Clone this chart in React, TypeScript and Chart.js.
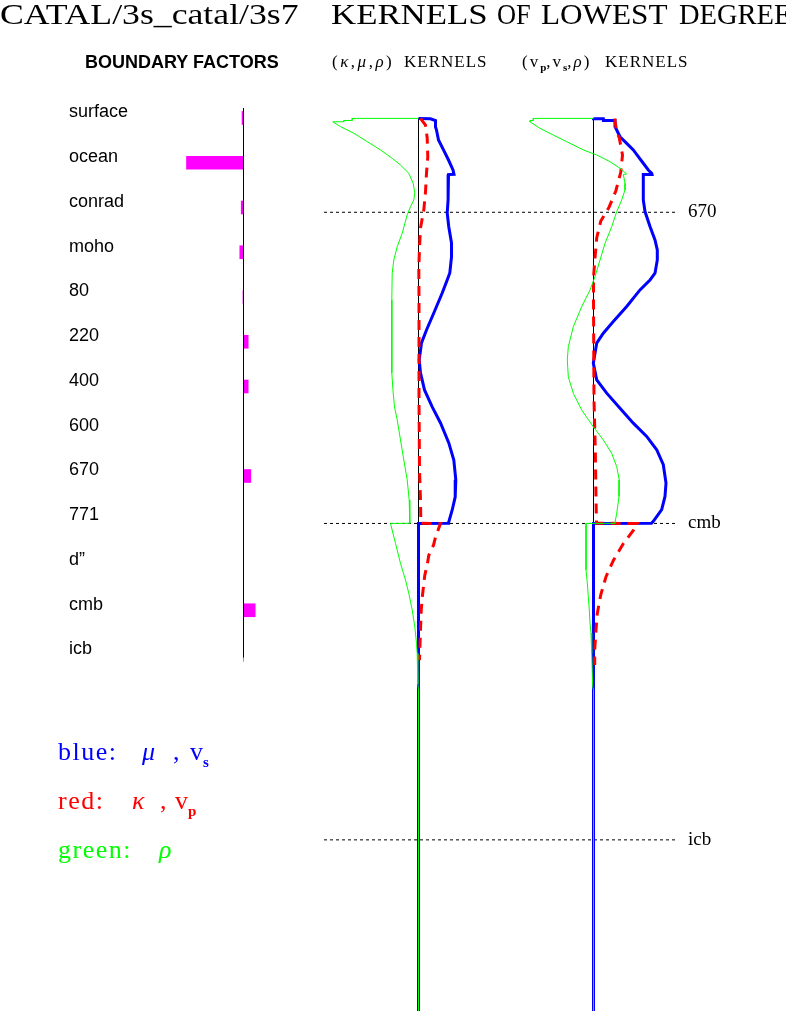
import React, { useEffect, useRef } from 'react';
import { Chart, registerables } from 'chart.js';

Chart.register(...registerables);

// ---------------- DATA ----------------
const EARTH_RADIUS = 6371;

// boundary factors (normalised, ocean = -1)
const boundaryLabels = ['surface', 'ocean', 'conrad', 'moho', '80', '220', '400', '600', '670', '771', 'd\u201D', 'cmb', 'icb'];
const boundaryFactors = [-0.026, -1.0, -0.04, -0.065, -0.009, 0.082, 0.082, 0, 0.128, 0, 0, 0.205, 0];

// discontinuities marked on the right (radius, km)
const discontinuityRadius = [5701, 3480, 1221.5];
const discontinuityLabels = ['670', 'cmb', 'icb'];

// (kappa, mu, rho) kernels -- radius in km, kernel value (normalised)
const muRadius = [6371, 6368, 6356, 6310, 6288, 6217, 6146, 6074, 6003, 5972, 5970, 5896, 5789, 5696, 5596, 5482, 5382, 5268, 5218, 5125, 4982, 4861, 4768, 4647, 4554, 4433, 4312, 4197, 4055, 3933, 3791, 3669, 3576, 3492, 3481, 3480, 0];
const muKernel = [0, 0.12, 0.17, 0.17, 0.18, 0.2, 0.25, 0.3, 0.345, 0.355, 0.3, 0.295, 0.297, 0.287, 0.303, 0.33, 0.33, 0.313, 0.287, 0.237, 0.153, 0.08, 0.03, 0.007, 0.02, 0.06, 0.137, 0.22, 0.303, 0.353, 0.373, 0.367, 0.337, 0.303, 0.3, 0, 0];

const kappaRadius = [6371, 6352, 6324, 6231, 6096, 5981, 5846, 5717, 5589, 5446, 5303, 5075, 4361, 3861, 3647, 3504, 3481, 3480, 3382, 3325, 3253, 3196, 3111, 3061, 2968, 2861, 2718, 2575, 2504];
const kappaKernel = [0.02, 0.04, 0.07, 0.087, 0.093, 0.08, 0.07, 0.053, 0.02, 0.01, 0.003, 0.005, 0.005, 0.01, 0.02, 0.023, 0.023, 0.22, 0.17, 0.15, 0.103, 0.09, 0.063, 0.055, 0.04, 0.027, 0.02, 0.013, 0.01];

const rhoKRadius = [6371, 6371, 6356, 6356, 6347, 6347, 6312, 6265, 6205, 6146, 6086, 6038, 5979, 5908, 5836, 5789, 5741, 5682, 5551, 5455, 5360, 5265, 5075, 4554, 4411, 4312, 4219, 4076, 3933, 3791, 3647, 3481, 3480, 3338, 3195, 3076, 2981, 2862, 2743, 2624, 2553, 2334, 2291, 0];
const rhoKKernel = [0, -0.663, -0.663, -0.747, -0.747, -0.857, -0.78, -0.647, -0.513, -0.38, -0.263, -0.18, -0.097, -0.053, -0.037, -0.047, -0.08, -0.113, -0.163, -0.213, -0.247, -0.263, -0.267, -0.267, -0.253, -0.24, -0.213, -0.18, -0.147, -0.113, -0.093, -0.087, -0.28, -0.23, -0.18, -0.13, -0.097, -0.063, -0.037, -0.02, -0.013, -0.007, 0, 0];

// (vp, vs, rho) kernels
const vsRadius = [6371, 6368, 6368, 6356, 6356, 6312, 6288, 6240, 6193, 6146, 6098, 6051, 6003, 5979, 5971, 5971, 5789, 5706, 5599, 5504, 5432, 5361, 5266, 5218, 5147, 5028, 4921, 4838, 4767, 4624, 4505, 4410, 4303, 4196, 4101, 4006, 3899, 3768, 3673, 3578, 3495, 3481, 3480, 0];
const vsKernel = [0, 0, 0.098, 0.1, 0.215, 0.215, 0.232, 0.265, 0.332, 0.398, 0.448, 0.498, 0.548, 0.582, 0.585, 0.498, 0.498, 0.515, 0.565, 0.615, 0.638, 0.638, 0.615, 0.565, 0.465, 0.332, 0.198, 0.098, 0.032, -0.002, 0.032, 0.132, 0.265, 0.398, 0.532, 0.632, 0.698, 0.725, 0.715, 0.682, 0.598, 0.58, 0, 0];

const vpRadius = [6371, 6352, 6274, 6231, 6110, 5988, 5853, 5739, 5639, 5518, 5375, 5232, 5075, 4361, 4004, 3647, 3490, 3481, 3480, 3432, 3338, 3218, 3100, 2969, 2838, 2719, 2576, 2469];
const vpKernel = [0.215, 0.215, 0.232, 0.258, 0.29, 0.273, 0.223, 0.157, 0.073, 0.032, 0.015, 0, 0, 0.005, 0.018, 0.025, 0.03, 0.03, 0.44, 0.4, 0.3, 0.2, 0.125, 0.072, 0.038, 0.025, 0.012, 0.012];

const rhoVRadius = [6371, 6371, 6356, 6356, 6347, 6300, 6252, 6205, 6146, 6110, 6062, 6015, 5974, 5971, 5908, 5860, 5789, 5705, 5598, 5479, 5360, 5241, 5146, 5027, 4884, 4741, 4647, 4527, 4409, 4290, 4170, 4076, 3981, 3885, 3791, 3672, 3552, 3486, 3481, 3480, 3148, 3055, 2957, 2862, 2769, 2698, 2553, 2315, 2291, 0];
const rhoVKernel = [0, -0.602, -0.602, -0.635, -0.635, -0.535, -0.402, -0.268, -0.102, 0.032, 0.165, 0.265, 0.332, 0.298, 0.315, 0.315, 0.282, 0.232, 0.182, 0.115, 0.065, 0.015, -0.035, -0.118, -0.202, -0.252, -0.262, -0.252, -0.202, -0.118, -0.002, 0.098, 0.182, 0.232, 0.258, 0.255, 0.232, 0.215, 0.215, -0.075, -0.075, -0.062, -0.052, -0.042, -0.035, -0.025, -0.018, -0.008, 0, 0];

// ---------------- LAYOUT ----------------
const W = 786;
const H = 1012;
const PLOT_LEFT = 168;
const PLOT_RIGHT = 686;
const PLOT_TOP = 100;
const PLOT_BOTTOM = 1011;
const SURFACE_Y = 118.4;
const R_MAX = EARTH_RADIUS + ((SURFACE_Y - PLOT_TOP) * EARTH_RADIUS) / (PLOT_BOTTOM - SURFACE_Y);

const BF_FIRST_Y = 118;
const BF_STEP = 44.75;
const BF_MIN = -(BF_FIRST_Y - PLOT_TOP) / BF_STEP;
const BF_MAX = BF_MIN + (PLOT_BOTTOM - PLOT_TOP) / BF_STEP;

const xRange = (zeroPx: number, pxPerUnit: number) => ({
  min: (PLOT_LEFT - zeroPx) / pxPerUnit,
  max: (PLOT_RIGHT - zeroPx) / pxPerUnit,
});
const XB = xRange(243.5, 57);
const XK = xRange(418.5, 100);
const XV = xRange(593.5, 100);
const DASH_FROM = (324 - 418.5) / 100;
const DASH_TO = (675 - 418.5) / 100;

const SERIF = '"Liberation Serif", "Times New Roman", serif';
const SANS = '"Liberation Sans", Arial, Helvetica, sans-serif';

const BLUE = '#0000ff';
const RED = '#ff0000';
const GREEN = '#00ff00';
const MAGENTA = '#ff00ff';

const pts = (rs: number[], vs: number[]) => rs.map((r, i) => ({ x: vs[i], y: r }));

const lineDs = (
  label: string,
  data: any[],
  xAxisID: string,
  yAxisID: string,
  color: string,
  width: number,
  order: number,
  dash: number[] = []
) => ({
  type: 'line',
  label,
  data,
  xAxisID,
  yAxisID,
  borderColor: color,
  backgroundColor: color,
  borderWidth: width,
  borderDash: dash,
  pointRadius: 0,
  pointHoverRadius: 0,
  tension: 0,
  fill: false,
  order,
  borderJoinStyle: 'miter',
  borderCapStyle: 'butt',
});

const zeroFit = (s: any, width: number) => {
  s.width = width;
  s.paddingTop = 0;
  s.paddingBottom = 0;
  s.paddingLeft = 0;
  s.paddingRight = 0;
};

function buildConfig(): any {
  const datasets: any[] = [];
  // boundary factor panel
  datasets.push(
    lineDs('bf-axis', [{ x: 0, y: -0.22 }, { x: 0, y: boundaryLabels.length - 1 + 0.05 }], 'xb', 'yb', '#000', 1, 1)
  );
  datasets.push({
    type: 'bar',
    label: 'boundary factors',
    indexAxis: 'y',
    xAxisID: 'xb',
    yAxisID: 'yb',
    data: boundaryFactors.map((v, i) => ({ x: v, y: i })),
    backgroundColor: MAGENTA,
    borderWidth: 0,
    grouped: false,
    barThickness: 13,
    maxBarThickness: 13,
    order: 5,
  });
  // discontinuity dashed lines
  discontinuityRadius.forEach((r, i) => {
    datasets.push(
      lineDs('disc-' + discontinuityLabels[i], [{ x: DASH_FROM, y: r }, { x: DASH_TO, y: r }], 'xk', 'yr', '#000', 1, 30, [3, 3])
    );
  });
  // zero axes of kernel panels
  datasets.push(lineDs('axis-k', [{ x: 0, y: EARTH_RADIUS }, { x: 0, y: 0 }], 'xk', 'yr', '#000', 1, 40));
  datasets.push(lineDs('axis-v', [{ x: 0, y: EARTH_RADIUS }, { x: 0, y: 0 }], 'xv', 'yr', '#000', 1, 40));
  // kernels
  datasets.push(lineDs('mu', pts(muRadius, muKernel), 'xk', 'yr', BLUE, 3, 22));
  datasets.push(lineDs('vs', pts(vsRadius, vsKernel), 'xv', 'yr', BLUE, 3, 22));
  datasets.push(lineDs('kappa', pts(kappaRadius, kappaKernel), 'xk', 'yr', RED, 3, 21, [10, 7]));
  datasets.push(lineDs('vp', pts(vpRadius, vpKernel), 'xv', 'yr', RED, 3, 21, [10, 7]));
  datasets.push(lineDs('rho-k', pts(rhoKRadius, rhoKKernel), 'xk', 'yr', GREEN, 1, 20));
  datasets.push(lineDs('rho-v', pts(rhoVRadius, rhoVKernel), 'xv', 'yr', GREEN, 1, 20));

  const hiddenX = (r: { min: number; max: number }) => ({
    type: 'linear',
    axis: 'x',
    display: false,
    min: r.min,
    max: r.max,
  });

  return {
    type: 'scatter',
    data: { datasets },
    options: {
      responsive: false,
      maintainAspectRatio: false,
      devicePixelRatio: 1,
      animation: false,
      events: [],
      layout: { padding: { left: 69, right: 0, top: PLOT_TOP, bottom: H - PLOT_BOTTOM } },
      plugins: {
        legend: { display: false },
        tooltip: { enabled: false },
        title: { display: false },
      },
      scales: {
        xb: hiddenX(XB),
        xk: hiddenX(XK),
        xv: hiddenX(XV),
        yr: { type: 'linear', axis: 'y', display: false, min: 0, max: R_MAX },
        yb: {
          type: 'linear',
          axis: 'y',
          position: 'left',
          reverse: true,
          offset: false,
          min: BF_MIN,
          max: BF_MAX,
          grid: { display: false, drawTicks: false, offset: false },
          border: { display: false },
          afterBuildTicks: (s: any) => {
            s.ticks = boundaryLabels.map((_, i) => ({ value: i }));
          },
          afterFit: (s: any) => zeroFit(s, PLOT_LEFT - 69),
          ticks: {
            autoSkip: false,
            crossAlign: 'far',
            padding: 0,
            labelOffset: -5.5,
            color: '#000',
            font: { family: SANS, size: 18 },
            callback: (_v: any, i: number) => boundaryLabels[i],
          },
        },
        yl: {
          type: 'linear',
          axis: 'y',
          position: 'right',
          min: 0,
          max: R_MAX,
          grid: { display: false, drawTicks: false },
          border: { display: false },
          afterBuildTicks: (s: any) => {
            s.ticks = discontinuityRadius.map((v) => ({ value: v }));
          },
          afterFit: (s: any) => zeroFit(s, W - PLOT_RIGHT),
          ticks: {
            autoSkip: false,
            padding: 2,
            color: '#000',
            font: { family: SERIF, size: 19 },
            callback: (_v: any, i: number) => discontinuityLabels[i],
          },
        },
      },
    },
  };
}

// ---------------- TEXT HELPERS ----------------
const ASC: Record<string, number> = { serif: 0.8375, sans: 0.8465 };

function Txt(props: {
  x: number;
  baseline: number;
  size: number;
  family: 'serif' | 'sans';
  color?: string;
  bold?: boolean;
  spacing?: number;
  children: React.ReactNode;
}) {
  const { x, baseline, size, family, color = '#000', bold, spacing, children } = props;
  return (
    <div
      style={{
        position: 'absolute',
        left: x,
        top: baseline - ASC[family] * size,
        fontSize: size,
        lineHeight: `${size}px`,
        fontFamily: family === 'serif' ? SERIF : SANS,
        fontWeight: bold ? 'bold' : 'normal',
        color,
        letterSpacing: spacing ?? 0,
        whiteSpace: 'nowrap',
      }}
    >
      {children}
    </div>
  );
}

const box = (width: number, extra: React.CSSProperties = {}): React.CSSProperties => ({
  display: 'inline-block',
  width,
  ...extra,
});
const legendSub: React.CSSProperties = { fontSize: 15, fontWeight: 'bold', position: 'relative', top: 7, letterSpacing: 0 };
const headSub: React.CSSProperties = { fontSize: 11, fontWeight: 'bold', position: 'relative', top: 4, letterSpacing: 0 };
const it: React.CSSProperties = { fontStyle: 'italic' };

// title words: left position and horizontal stretch
const TITLE_SIZE = 30;
const titleParts: { text: string; x: number; sx: number }[] = [
  { text: 'CATAL/3s_catal/3s7 ', x: 0, sx: 1.19 },
  { text: 'KERNELS ', x: 331, sx: 1.16 },
  { text: 'OF ', x: 497, sx: 0.88 },
  { text: 'LOWEST ', x: 541, sx: 1.04 },
  { text: 'DEGREE', x: 679, sx: 0.95 },
];

function Title() {
  const top = 24.5 - ASC.serif * TITLE_SIZE;
  return (
    <div style={{ position: 'absolute', left: 0, top, width: W, height: 40 }}>
      {titleParts.map((p) => (
        <span
          key={p.text}
          style={{
            position: 'absolute',
            left: p.x,
            top: 0,
            fontFamily: SERIF,
            fontSize: TITLE_SIZE,
            lineHeight: `${TITLE_SIZE}px`,
            whiteSpace: 'pre',
            transform: `scaleX(${p.sx})`,
            transformOrigin: '0 0',
            color: '#000',
          }}
        >
          {p.text}
        </span>
      ))}
    </div>
  );
}

export default function App() {
  const canvasRef = useRef<HTMLCanvasElement | null>(null);

  useEffect(() => {
    if (!canvasRef.current) return;
    const chart = new Chart(canvasRef.current, buildConfig());
    return () => chart.destroy();
  }, []);

  return (
    <div
      style={{
        position: 'absolute',
        left: 0,
        top: 0,
        width: W,
        height: H,
        overflow: 'hidden',
        background: '#fff',
      }}
    >
      <canvas ref={canvasRef} width={W} height={H} style={{ display: 'block', width: W, height: H }} />

      <Title />

      {/* panel headers */}
      <Txt x={85} baseline={68.5} size={18} family="sans" bold>
        BOUNDARY FACTORS
      </Txt>
      <Txt x={332} baseline={67.5} size={17} family="serif">
        <span style={box(67.75, { letterSpacing: 2.5 })}>
          (<span style={it}>κ</span>,<span style={it}>μ</span>,<span style={it}>ρ</span>)
        </span>{' '}
        <span style={{ letterSpacing: 1 }}>KERNELS</span>
      </Txt>
      <Txt x={522} baseline={67.5} size={17} family="serif">
        <span style={box(78.75, { letterSpacing: 2 })}>
          (v<span style={headSub}>p</span>,v<span style={headSub}>s</span>,<span style={it}>ρ</span>)
        </span>{' '}
        <span style={{ letterSpacing: 1 }}>KERNELS</span>
      </Txt>

      {/* colour key */}
      <Txt x={58} baseline={761} size={26} family="serif" color={BLUE}>
        <span style={box(84, { letterSpacing: 1.5 })}>blue:</span>
        <span style={box(31, it)}>μ</span>
        <span style={box(17)}>,</span>
        v<span style={legendSub}>s</span>
      </Txt>
      <Txt x={58} baseline={810} size={26} family="serif" color={RED}>
        <span style={box(74, { letterSpacing: 1.5 })}>red:</span>
        <span style={box(28, it)}>κ</span>
        <span style={box(15)}>,</span>
        v<span style={legendSub}>p</span>
      </Txt>
      <Txt x={58} baseline={859} size={26} family="serif" color={GREEN}>
        <span style={box(101, { letterSpacing: 1.5 })}>green:</span>
        <span style={it}>ρ</span>
      </Txt>
    </div>
  );
}
